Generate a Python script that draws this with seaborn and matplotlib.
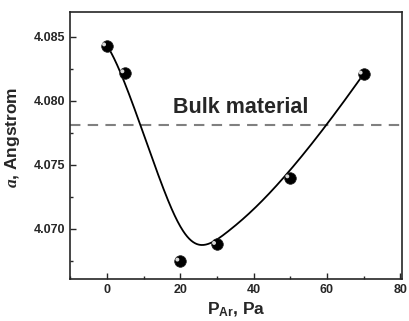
import numpy as np
import pandas as pd
import seaborn as sns
import matplotlib.pyplot as plt
from matplotlib.ticker import MultipleLocator

# measured lattice parameter vs argon pressure
pressure = [0, 5, 20, 30, 50, 70]
lattice = [4.0843, 4.0822, 4.0675, 4.0688, 4.0740, 4.0821]
bulk_value = 4.0781

sns.set_theme(style="ticks")
plt.rcParams['font.family'] = ['Liberation Sans', 'DejaVu Sans']
plt.rcParams['mathtext.fontset'] = 'custom'
plt.rcParams['mathtext.it'] = 'Liberation Serif:italic:bold'
plt.rcParams['mathtext.bf'] = 'Liberation Sans:bold'
plt.rcParams['mathtext.rm'] = 'Liberation Sans:bold'

df = pd.DataFrame({"p": pressure, "a": lattice})


def bspline(px, py, n=300, k=3):
    # clamped B-spline using the data points as control points (Origin-style)
    m = len(px)
    knots = np.concatenate([np.zeros(k), np.linspace(0, 1, m - k + 1), np.ones(k)])
    ts = np.linspace(0, 1, n)
    ts[-1] -= 1e-12

    def basis(i, d, t):
        if d == 0:
            return ((knots[i] <= t) & (t < knots[i + 1])).astype(float)
        out = np.zeros_like(t)
        den1 = knots[i + d] - knots[i]
        den2 = knots[i + d + 1] - knots[i + 1]
        if den1 > 0:
            out += (t - knots[i]) / den1 * basis(i, d - 1, t)
        if den2 > 0:
            out += (knots[i + d + 1] - t) / den2 * basis(i + 1, d - 1, t)
        return out

    B = np.array([basis(i, k, ts) for i in range(m)])
    return B.T @ np.asarray(px, float), B.T @ np.asarray(py, float)


cx, cy = bspline(pressure, lattice)
curve = pd.DataFrame({"p": cx, "a": cy})

fig, ax = plt.subplots(figsize=(4.09, 3.21), dpi=100)
fig.subplots_adjust(left=0.172, right=0.983, top=0.963, bottom=0.131)

sns.lineplot(data=curve, x="p", y="a", ax=ax, color="black", lw=1.3,
             sort=False, estimator=None, zorder=2)
ax.axhline(bulk_value, color="#808080", ls=(0, (5, 3.5)), lw=1.5, zorder=1)
sns.scatterplot(data=df, x="p", y="a", ax=ax, s=70, color="black",
                edgecolor="#222222", linewidth=0.5, zorder=3)
# highlight on the ball markers
ax.scatter(df["p"] - 0.8, df["a"] + 0.00011, s=8, color="#d8d8d8",
           edgecolors="none", zorder=4)

ax.text(36.4, 4.0795, "Bulk material", ha="center", va="center",
        fontsize=15.5, fontweight="bold")

ax.set_xlim(-10, 80.5)
ax.set_ylim(4.0661, 4.08695)
ax.xaxis.set_major_locator(MultipleLocator(20))
ax.xaxis.set_minor_locator(MultipleLocator(10))
ax.yaxis.set_major_locator(MultipleLocator(0.005))
ax.yaxis.set_minor_locator(MultipleLocator(0.0025))
ax.yaxis.set_major_formatter(plt.FormatStrFormatter("%.3f"))
ax.tick_params(which="both", direction="in", top=False, right=False,
               width=1, labelsize=9)
ax.tick_params(which="major", length=4)
ax.tick_params(which="minor", length=2.5)
for lab in ax.get_xticklabels() + ax.get_yticklabels():
    lab.set_fontweight("bold")
for s in ax.spines.values():
    s.set_linewidth(1.2)
    s.set_visible(True)

ax.set_xlabel(r"P$_{\mathrm{Ar}}$, Pa", fontsize=12.5, fontweight="bold", labelpad=3)
ax.set_ylabel(r"$\mathit{a}$, Angstrom", fontsize=12.5, fontweight="bold")
ax.yaxis.set_label_coords(-0.145, 0.53)

fig.savefig("out.png", dpi=100)
